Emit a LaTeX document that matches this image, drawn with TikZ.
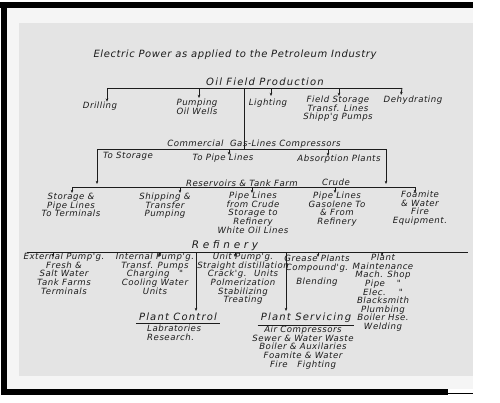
\documentclass[tikz,border=0pt]{standalone}
\usepackage{fontspec}
\setmainfont{DejaVu Sans}
\newfontfamily\handfont{DejaVu Sans}[LetterSpace=6]
\newfontfamily\headfont{DejaVu Sans}[LetterSpace=12]
\newfontfamily\widefont{DejaVu Sans}[LetterSpace=35]
\usepackage{xcolor}
\usepackage{tikz}
\usetikzlibrary{arrows.meta}

\definecolor{card}{HTML}{E4E4E4}
\definecolor{mount}{HTML}{F5F5F5}
\definecolor{ink}{HTML}{1C1C1C}

\begin{document}
\begin{tikzpicture}[
  x=1pt, y=-1pt,
  >={Stealth[length=3.2pt,width=2.6pt]},
  every node/.style={inner sep=0pt, align=center, text=ink},
  lbl/.style={font=\handfont\itshape\fontsize{8.6}{8.6}\selectfont},
  head/.style={font=\headfont\itshape\fontsize{10}{11}\selectfont},
  wire/.style={draw=ink, line width=0.8pt}
]
\useasboundingbox (0,0) rectangle (500,402);

% photo mount and card
\fill[white] (0,0) rectangle (500,402);
\fill[mount] (7,8) rectangle (473,389);
\fill[card] (19,23) rectangle (473,376);
\fill[black] (0,2) rectangle (473,8);
\fill[black] (1,2) rectangle (7,395);
\fill[black] (1,389) rectangle (448,395);
\draw[black, line width=0.6pt] (448,393) -- (473,393);

% title
\node[head,font=\handfont\itshape\fontsize{10}{11}\selectfont] (title) at (235,55) {Electric Power as applied to the Petroleum Industry};

% oil field production
\node[head] (ofp) at (265,82) {Oil Field Production};
\coordinate (ofW) at (107,88);
\coordinate (ofE) at (402,88);
\coordinate (ofT) at (244,88);
\draw[wire] (ofW) -- (ofE);

\node[lbl] (drill) at (100,106) {Drilling};
\node[lbl] (pump) at (197,107) {Pumping\\Oil Wells};
\node[lbl] (light) at (268,103) {Lighting};
\node[lbl] (field) at (338,109) {Field Storage\\Transf. Lines\\Shipp'g Pumps};
\node[lbl] (dehyd) at (413,100) {Dehydrating};

\draw[wire,->] (ofW) -- (drill.north -| ofW);
\draw[wire,->] (199,88) -- (199,98);
\draw[wire,->] (271,88) -- (271,96);
\draw[wire,->] (339,88) -- (339,96);
\draw[wire,->] (ofE) -- (401,95);

% commercial gas lines
\node[lbl] (comm) at (254,144) {Commercial \ Gas-Lines Compressors};
\coordinate (cmW) at (97,149);
\coordinate (cmE) at (386,149);
\draw[wire] (ofT) -- (ofT |- cmW);
\draw[wire] (cmW) -- (cmE);

\node[lbl] (tosto) at (128,156) {To Storage};
\node[lbl] (topipe) at (223,158) {To Pipe Lines};
\node[lbl] (absorb) at (339,159) {Absorption Plants};
\draw[wire,->] (229,149) -- (229,155);
\draw[wire,->] (328,149) -- (328,156);

% reservoirs and tank farm
\node[lbl] (resv) at (242,183) {Reservoirs \& Tank Farm};
\node[lbl] (crude) at (336,182) {Crude};
\coordinate (rsW) at (72,187);
\coordinate (rsE) at (415,187);
\draw[wire,->] (cmW) -- (97,184);
\draw[wire,->] (cmE) -- (386,184);
\draw[wire] (rsW) -- (rsE);

\node[lbl,anchor=north] (store) at (71,193) {Storage \&\\Pipe Lines\\To Terminals};
\node[lbl,anchor=north] (ship) at (165,193) {Shipping \&\\Transfer\\Pumping};
\node[lbl,anchor=north] (pcrude) at (253,192) {Pipe Lines\\from Crude\\Storage to\\Refinery\\White Oil Lines};
\node[lbl,anchor=north] (pgas) at (337,192) {Pipe Lines\\Gasolene To\\\& From\\Refinery};
\node[lbl,anchor=north] (foam) at (420,191) {Foamite\\\& Water\\Fire\\Equipment.};

\draw[wire,->] (rsW) -- (72,193);
\draw[wire,->] (180,187) -- (180,193);
\draw[wire,->] (252,187) -- (252,193);
\draw[wire,->] (335,187) -- (335,193);
\draw[wire,->] (rsE) -- (415,193);

% refinery
\node[head,font=\widefont\itshape\fontsize{10.5}{11}\selectfont] (refy) at (225,246) {Refinery};
\coordinate (rfW) at (27,252);
\coordinate (rfE) at (468,252);
\draw[wire] (rfW) -- (rfE);

\node[lbl,anchor=north] (extp) at (64,253) {External Pump'g.\\Fresh \&\\Salt Water\\Tank Farms\\Terminals};
\node[lbl,anchor=north] (intp) at (155,253) {Internal Pump'g.\\Transf. Pumps\\Charging \ \ "\ \ \\Cooling Water\\Units};
\node[lbl,anchor=north] (unit) at (243,253) {Unit Pump'g.\\Straight distillation\\Crack'g. \ Units\\Polmerization\\Stabilizing\\Treating};
\node[lbl,anchor=north] (grease) at (317,255) {Grease Plants\\Compound'g.\\[6pt]Blending};
\node[lbl,anchor=north] (maint) at (383,254) {Plant\\Maintenance\\Mach. Shop\\Pipe \quad "\\Elec. \quad "\\Blacksmith\\Plumbing\\Boiler Hse.\\Welding};

\draw[wire,->] (53,252) -- (53,257);
\draw[wire,->] (159,252) -- (159,257);
\draw[wire,->] (235,252) -- (235,257);
\draw[wire,->] (318,252) -- (318,257);
\draw[wire,->] (382,252) -- (382,256);

% plant control and servicing
\node[head] (pctl) at (178,317) {Plant Control};
\node[lbl,align=left,anchor=north west] (pctlx) at (147,325) {Labratories\\Research.};
\node[head] (psvc) at (306,318) {Plant Servicing};
\node[lbl,anchor=north] (psvcx) at (303,326) {Air Compressors\\Sewer \& Water Waste\\Boiler \& Auxilaries\\Foamite \& Water\\Fire \ \ Fighting};

\draw[wire] ([xshift=-3pt,yshift=-2pt]pctl.south west) -- ([xshift=3pt,yshift=-2pt]pctl.south east);
\draw[wire] ([xshift=-3pt,yshift=-2pt]psvc.south west) -- ([xshift=3pt,yshift=-2pt]psvc.south east);
\draw[wire,->] (196,252) -- (196,311);
\draw[wire,->] (286,252) -- (286,311);

\end{tikzpicture}
\end{document}
